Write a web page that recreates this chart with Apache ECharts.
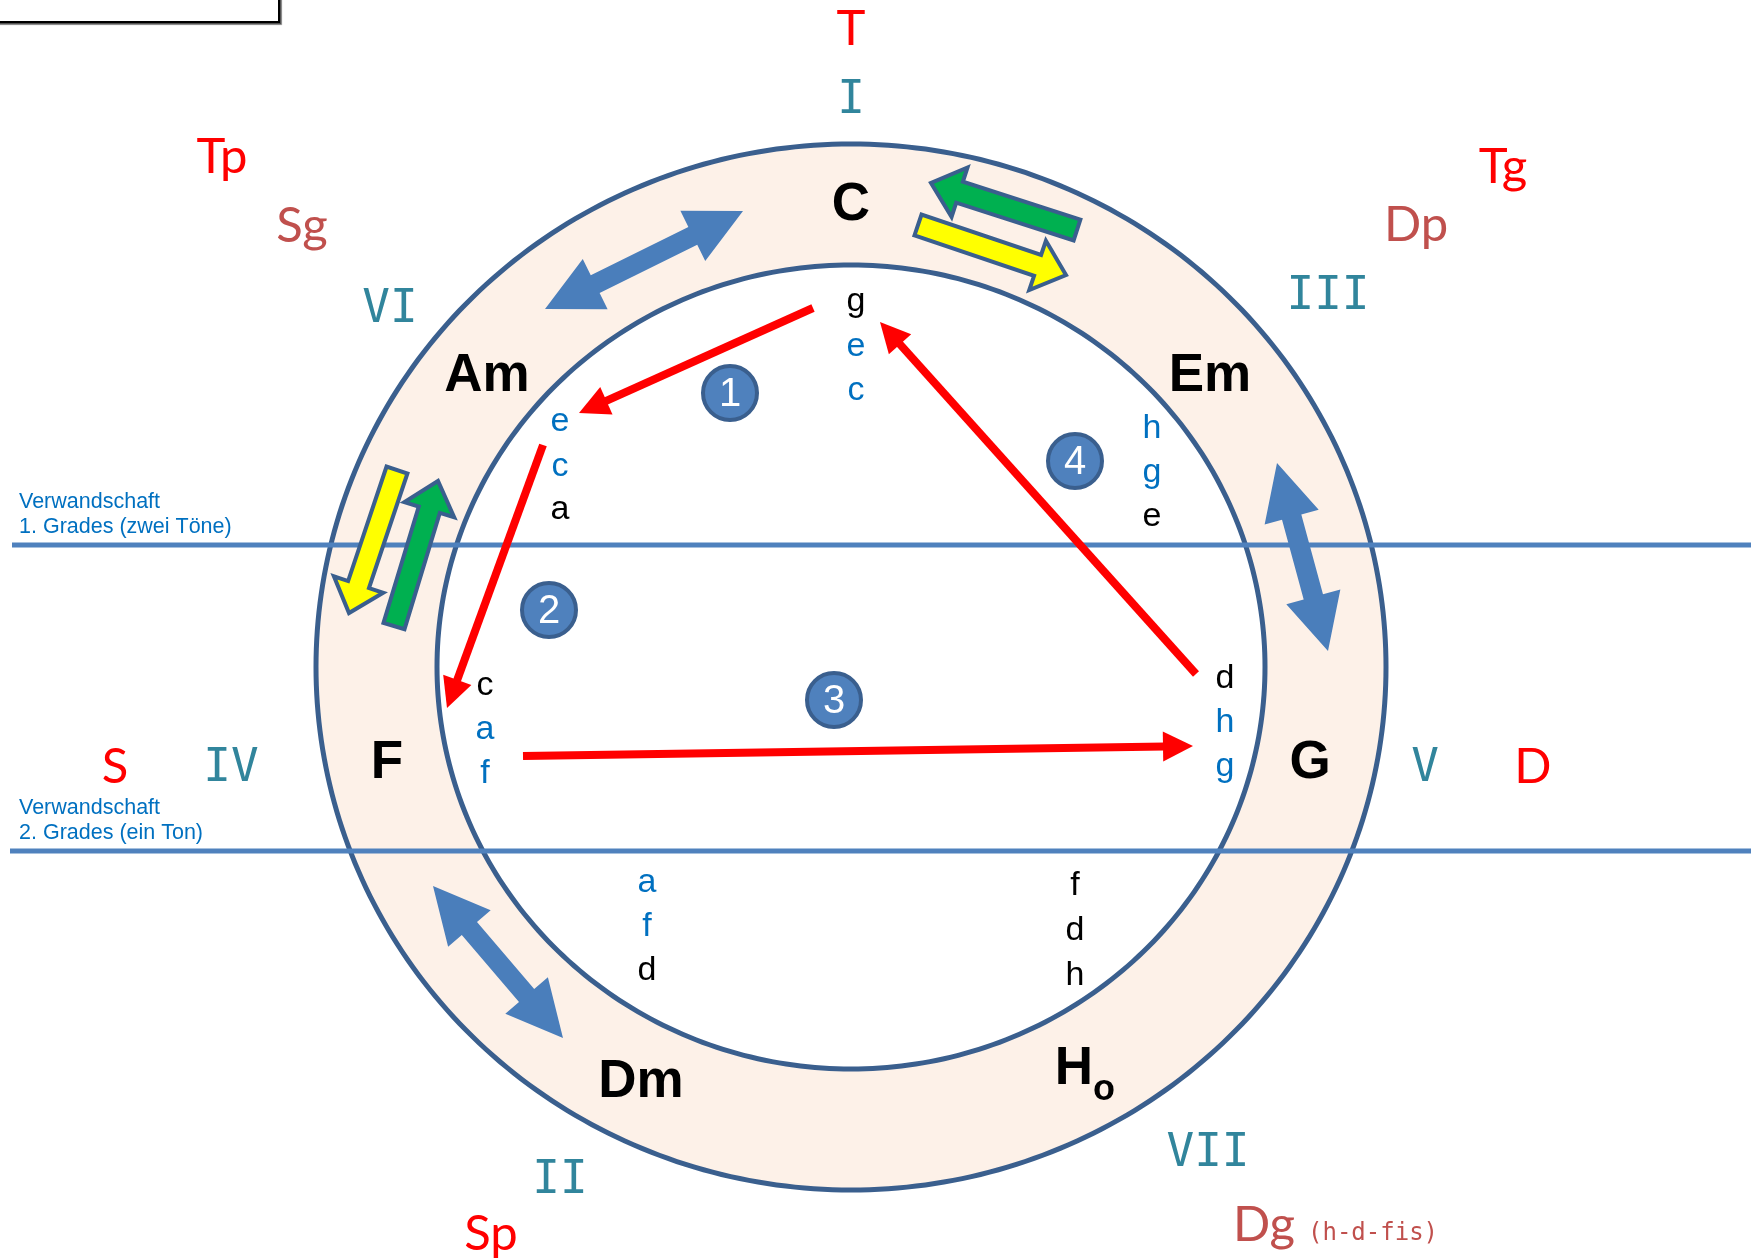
<!DOCTYPE html>
<html><head><meta charset="utf-8">
<script src="https://cdn.jsdelivr.net/npm/echarts@6/dist/echarts.min.js"></script>
<style>html,body{margin:0;padding:0;background:#fff}#c{width:1751px;height:1260px}</style>
</head><body><div id="c"></div>
<script>
// ---------- data ----------
const ringCenter = [851, 667];
const ringOuter = [535, 523];
const ringInner = [414, 402];

const chordNames = ['C', 'Am', 'Em', 'F', 'G', 'Dm', 'H'];
const chordSubs  = ['', '', '', '', '', '', 'o'];
const chordPos   = [[851, 205], [487, 376], [1210, 376], [387, 763], [1310, 763], [641, 1082], [1074, 1069]];

const noteLetters = [['g','e','c'], ['e','c','a'], ['h','g','e'], ['c','a','f'], ['d','h','g'], ['a','f','d'], ['f','d','h']];
const noteShared  = [[0,1,1], [1,1,0], [1,1,0], [0,1,1], [0,1,1], [1,1,0], [0,0,0]];
const noteX = [856, 560, 1152, 485, 1225, 647, 1075];
const noteY = [[302, 347, 391], [422, 467, 510], [429, 473, 517], [686, 730, 774], [679, 723, 767], [883, 927, 971], [886, 931, 976]];

const funcLabels = ['T', 'Tp', 'Sg', 'Tg', 'Dp', 'S', 'D', 'Sp', 'Dg'];
const funcKind   = [0, 0, 1, 0, 1, 0, 0, 0, 1];   // 0 = main, 1 = secondary
const funcPos    = [[851, 29], [222, 157], [302, 226], [1503, 167], [1416, 225], [115, 767], [1533, 767], [491, 1234], [1264, 1225]];
const dgNote = '(h-d-fis)';
const dgNotePos = [1308, 1234];

const romanLabels = ['I', 'III', 'VI', 'IV', 'V', 'II', 'VII'];
const romanPos    = [[851, 101], [1328, 297], [390, 310], [231, 769], [1425, 769], [560, 1181], [1208, 1154]];

const levelY      = [545, 851];
const levelStartX = [12, 10];
const levelEndX   = [1751, 1751];
const levelText   = [['Verwandschaft', '1. Grades (zwei Töne)'], ['Verwandschaft', '2. Grades (ein Ton)']];
const levelTextPos = [[19, 502], [19, 808]];

const redFrom = [[813, 308], [543, 445], [523, 756], [1196, 674]];
const redTo   = [[579, 413], [447, 708], [1193, 746], [880, 322]];

const stepNums = ['1', '2', '3', '4'];
const stepPos  = [[730, 393], [549, 610], [834, 700], [1075, 461]];

const swapFrom = [[545, 309], [1277, 463], [433, 886]];
const swapTo   = [[743, 211], [1328, 651], [563, 1038]];

const pairTail = [[1077, 230], [918, 225], [397, 470], [394, 626]];
const pairTip  = [[931, 183], [1066, 275], [349, 613], [438, 481]];
const pairKind = [0, 1, 1, 0]; // 0 = green, 1 = yellow

// ---------- helpers ----------
const W = 1751, H = 1260;
function ellipse(c, rx, ry) {
  const pts = [];
  for (let i = 0; i < 360; i++) {
    const t = Math.PI * 2 * i / 360;
    pts.push([c[0] + rx * Math.cos(t), c[1] + ry * Math.sin(t)]);
  }
  return pts;
}
function arrowPoly(a, b, w, hw, hl, dbl) {
  const dx = b[0] - a[0], dy = b[1] - a[1], L = Math.hypot(dx, dy);
  const ux = dx / L, uy = dy / L, px = -uy, py = ux;
  const P = (s, t) => [a[0] + ux * s + px * t, a[1] + uy * s + py * t];
  if (dbl) {
    return [P(0, 0), P(hl, hw / 2), P(hl, w / 2), P(L - hl, w / 2), P(L - hl, hw / 2), P(L, 0),
            P(L - hl, -hw / 2), P(L - hl, -w / 2), P(hl, -w / 2), P(hl, -hw / 2)];
  }
  return [P(0, w / 2), P(L - hl, w / 2), P(L - hl, hw / 2), P(L, 0), P(L - hl, -hw / 2), P(L - hl, -w / 2), P(0, -w / 2)];
}
function txt(p, text, fill, size, family, weight, align) {
  return { type: 'text', x: p[0], y: p[1], style: {
    text: text, fill: fill, fontSize: size, fontFamily: family, fontWeight: weight || 'normal',
    align: align || 'center', verticalAlign: 'middle' } };
}
const BLUE_OUT = '#3A5F8E';

const series = [];
// ring
series.push({
  type: 'custom', z: 1, silent: true, encode: { x: 0, y: 1 },
  data: [[ringCenter[0], ringCenter[1], ringOuter[0], ringOuter[1], ringInner[0], ringInner[1]]],
  renderItem: (params, api) => {
    const c = api.coord([api.value(0), api.value(1)]);
    const o = api.size([api.value(2), api.value(3)]);
    const i = api.size([api.value(4), api.value(5)]);
    return { type: 'group', children: [
      { type: 'polygon', shape: { points: ellipse(c, o[0], o[1]) }, style: { fill: '#FDF1E8', stroke: BLUE_OUT, lineWidth: 5 } },
      { type: 'polygon', shape: { points: ellipse(c, i[0], i[1]) }, style: { fill: '#FFFFFF', stroke: BLUE_OUT, lineWidth: 5 } }
    ] };
  }
});
// level lines
series.push({
  type: 'custom', z: 2, silent: true, encode: { x: 0, y: 1 },
  data: levelY.map((y, i) => [levelStartX[i], y, levelEndX[i], y]),
  renderItem: (params, api) => {
    const a = api.coord([api.value(0), api.value(1)]);
    const b = api.coord([api.value(2), api.value(3)]);
    return { type: 'line', shape: { x1: a[0], y1: a[1], x2: b[0], y2: b[1] }, style: { stroke: '#4F81BD', lineWidth: 5 } };
  }
});
// level texts
series.push({
  type: 'custom', z: 3, silent: true, encode: { x: 0, y: 1 },
  data: levelTextPos,
  renderItem: (params, api) => {
    const p = api.coord([api.value(0), api.value(1)]);
    const t = levelText[params.dataIndex];
    return { type: 'group', children: [
      txt(p, t[0], '#0070C0', 21.5, '"Liberation Sans", Arial', 'normal', 'left'),
      txt([p[0], p[1] + 25], t[1], '#0070C0', 21.5, '"Liberation Sans", Arial', 'normal', 'left')
    ] };
  }
});
// blue double arrows
series.push({
  type: 'custom', z: 4, silent: true, encode: { x: 0, y: 1 },
  data: swapFrom.map((f, i) => [f[0], f[1], swapTo[i][0], swapTo[i][1]]),
  renderItem: (params, api) => {
    const a = api.coord([api.value(0), api.value(1)]);
    const b = api.coord([api.value(2), api.value(3)]);
    return { type: 'polygon', shape: { points: arrowPoly(a, b, 20, 56, 56, true) }, style: { fill: '#4A7EBB' } };
  }
});
// green / yellow arrows
series.push({
  type: 'custom', z: 5, silent: true, encode: { x: 0, y: 1 },
  data: pairTail.map((f, i) => [f[0], f[1], pairTip[i][0], pairTip[i][1]]),
  renderItem: (params, api) => {
    const a = api.coord([api.value(0), api.value(1)]);
    const b = api.coord([api.value(2), api.value(3)]);
    const fill = pairKind[params.dataIndex] === 0 ? '#00B050' : '#FFFF00';
    return { type: 'polygon', shape: { points: arrowPoly(a, b, 22, 52, 30, false) }, style: { fill: fill, stroke: BLUE_OUT, lineWidth: 4, lineJoin: 'miter' } };
  }
});
// red arrows
series.push({
  type: 'custom', z: 6, silent: true, encode: { x: 0, y: 1 },
  data: redFrom.map((f, i) => [f[0], f[1], redTo[i][0], redTo[i][1]]),
  renderItem: (params, api) => {
    const a = api.coord([api.value(0), api.value(1)]);
    const b = api.coord([api.value(2), api.value(3)]);
    const dx = b[0] - a[0], dy = b[1] - a[1], L = Math.hypot(dx, dy);
    const ux = dx / L, uy = dy / L, px = -uy, py = ux, hl = 30, hw = 30;
    const bx = b[0] - ux * (hl - 2), by = b[1] - uy * (hl - 2);
    const base = [b[0] - ux * hl, b[1] - uy * hl];
    return { type: 'group', children: [
      { type: 'line', shape: { x1: a[0], y1: a[1], x2: bx, y2: by }, style: { stroke: '#FF0000', lineWidth: 8 } },
      { type: 'polygon', shape: { points: [b, [base[0] + px * hw / 2, base[1] + py * hw / 2], [base[0] - px * hw / 2, base[1] - py * hw / 2]] }, style: { fill: '#FF0000' } }
    ] };
  }
});
// step circles
series.push({
  type: 'custom', z: 7, silent: true, encode: { x: 0, y: 1 },
  data: stepPos,
  renderItem: (params, api) => {
    const p = api.coord([api.value(0), api.value(1)]);
    return { type: 'group', children: [
      { type: 'circle', shape: { cx: p[0], cy: p[1], r: 27 }, style: { fill: '#4F81BD', stroke: BLUE_OUT, lineWidth: 4 } },
      txt([p[0], p[1] + 2], stepNums[params.dataIndex], '#FFFFFF', 40, '"Liberation Sans", Arial')
    ] };
  }
});
// chord names
series.push({
  type: 'custom', z: 8, silent: true, encode: { x: 0, y: 1 },
  data: chordPos,
  renderItem: (params, api) => {
    const p = api.coord([api.value(0), api.value(1)]);
    const i = params.dataIndex;
    const ch = [txt(p, chordNames[i], '#000000', 53, '"Liberation Sans", Arial', 'bold')];
    if (chordSubs[i]) ch.push(txt([p[0] + 30, p[1] + 21], chordSubs[i], '#000000', 36, '"Liberation Sans", Arial', 'bold'));
    return { type: 'group', children: ch };
  }
});
// notes
series.push({
  type: 'custom', z: 9, silent: true, encode: { x: 0, y: 1 },
  data: noteX.map((x, i) => [x, noteY[i][0], noteY[i][1], noteY[i][2]]),
  renderItem: (params, api) => {
    const i = params.dataIndex;
    const ch = [];
    for (let k = 0; k < 3; k++) {
      const p = api.coord([api.value(0), api.value(1 + k)]);
      ch.push(txt(p, noteLetters[i][k], noteShared[i][k] ? '#0070C0' : '#000000', 34, '"Liberation Sans", Arial'));
    }
    return { type: 'group', children: ch };
  }
});
// function labels
series.push({
  type: 'custom', z: 10, silent: true, encode: { x: 0, y: 1 },
  data: funcPos,
  renderItem: (params, api) => {
    const p = api.coord([api.value(0), api.value(1)]);
    const i = params.dataIndex;
    return txt(p, funcLabels[i], funcKind[i] ? '#C0504D' : '#FF0000', 49, 'Lato, "Noto Sans"');
  }
});
series.push({
  type: 'custom', z: 10, silent: true, encode: { x: 0, y: 1 },
  data: [dgNotePos],
  renderItem: (params, api) => {
    const p = api.coord([api.value(0), api.value(1)]);
    return txt(p, dgNote, '#C0504D', 24, '"DejaVu Sans Mono", monospace', 'normal', 'left');
  }
});
// roman numerals
series.push({
  type: 'custom', z: 10, silent: true, encode: { x: 0, y: 1 },
  data: romanPos,
  renderItem: (params, api) => {
    const p = api.coord([api.value(0), api.value(1)]);
    return txt(p, romanLabels[params.dataIndex], '#31859C', 46, '"DejaVu Sans Mono", monospace');
  }
});

const chart = echarts.init(document.getElementById('c'), null, { renderer: 'canvas', width: W, height: H });
chart.setOption({
  animation: false,
  backgroundColor: '#FFFFFF',
  grid: { left: 0, right: 0, top: 0, bottom: 0 },
  xAxis: { type: 'value', min: 0, max: W, show: false },
  yAxis: { type: 'value', min: 0, max: H, inverse: true, show: false },
  graphic: [{
    type: 'rect', left: -5, top: -5, z: 20, silent: true,
    shape: { width: 283, height: 26 },
    style: { fill: '#FFFFFF', stroke: '#000000', lineWidth: 2, shadowColor: 'rgba(0,0,0,0.45)', shadowOffsetX: 2, shadowOffsetY: 2, shadowBlur: 1 }
  }],
  series: series
});
</script></body></html>
